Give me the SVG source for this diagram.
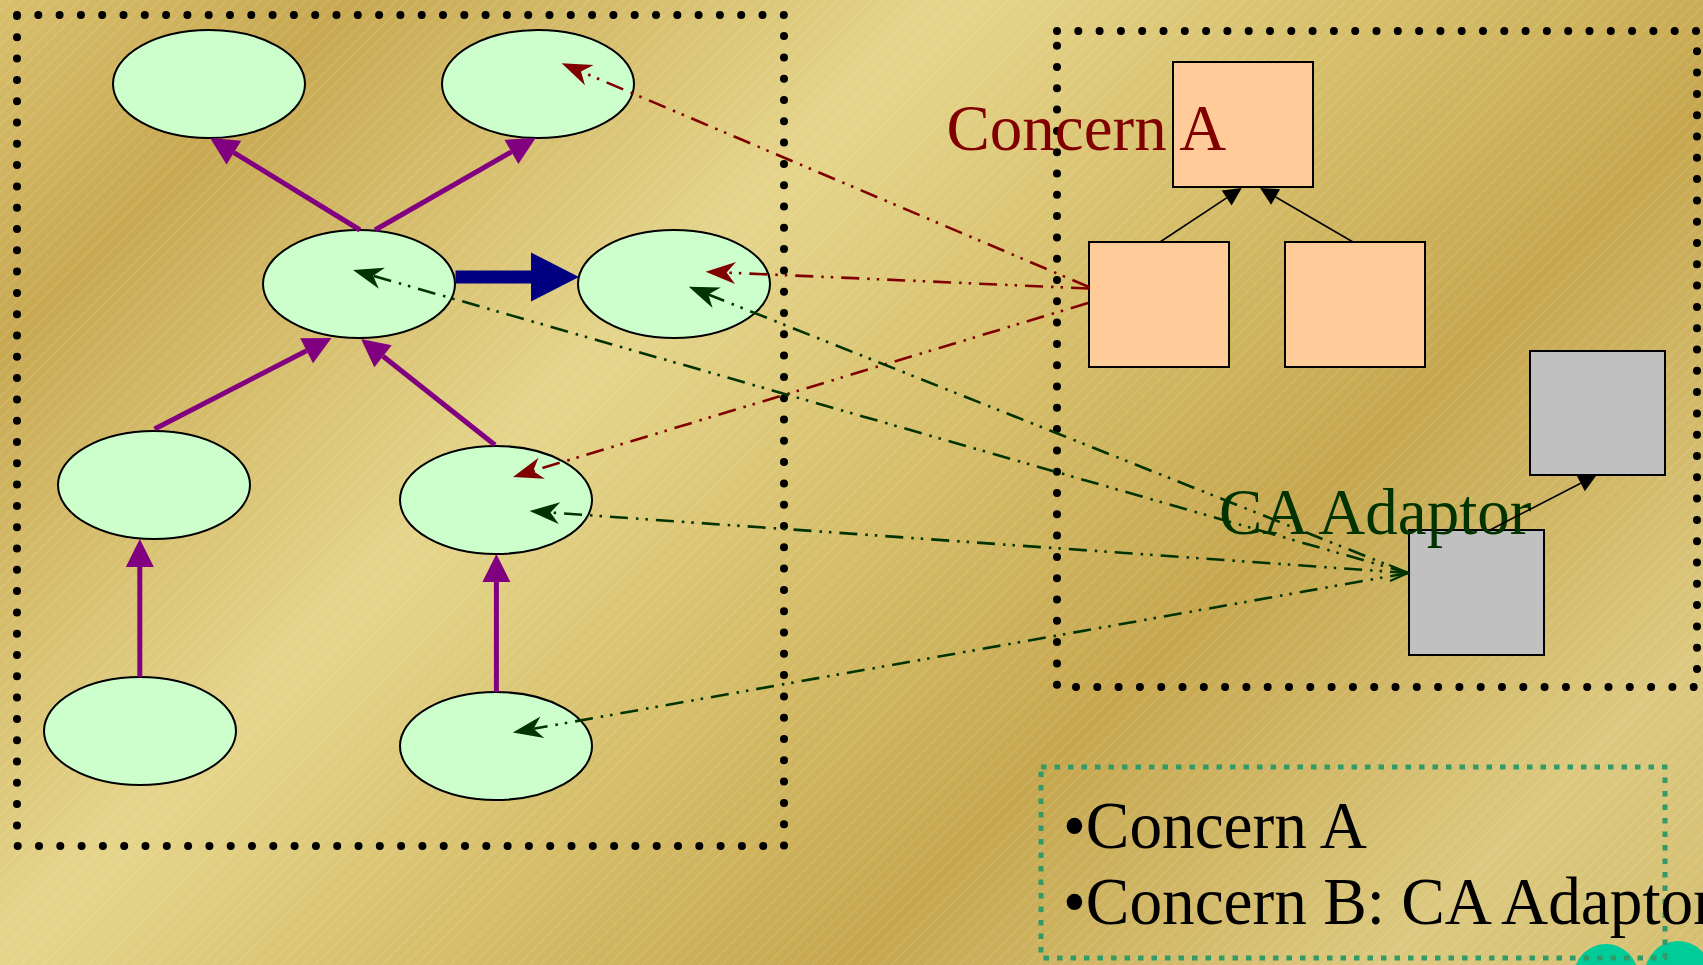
<svg xmlns="http://www.w3.org/2000/svg" width="1703" height="965" viewBox="0 0 1703 965">
<defs>
<linearGradient id="bg" gradientUnits="userSpaceOnUse" x1="0" y1="0" x2="1334" y2="1334">
<stop offset="0" stop-color="#D8BF6C"/>
<stop offset="0.13" stop-color="#C8A952"/>
<stop offset="0.36" stop-color="#E5D58B"/>
<stop offset="0.52" stop-color="#D6BE6A"/>
<stop offset="0.68" stop-color="#C6A74F"/>
<stop offset="0.88" stop-color="#DCC97F"/>
<stop offset="1" stop-color="#D4BE70"/>
</linearGradient>
<pattern id="hatch" width="8" height="8" patternUnits="userSpaceOnUse" patternTransform="rotate(45)">
<line x1="0" y1="0" x2="0" y2="8" stroke="#ffffff" stroke-opacity="0.28" stroke-width="1"/>
</pattern>
<marker id="purple" markerUnits="userSpaceOnUse" markerWidth="30" markerHeight="30" refX="0" refY="0" orient="auto" overflow="visible">
<path d="M0,-14 L28,0 L0,14 z" fill="#800080"/>
</marker>
<marker id="blue" markerUnits="userSpaceOnUse" markerWidth="50" markerHeight="50" refX="0" refY="0" orient="auto" overflow="visible">
<path d="M0,-24.5 L48,0 L0,24.5 z" fill="#000080"/>
</marker>
<marker id="black" markerUnits="userSpaceOnUse" markerWidth="20" markerHeight="20" refX="0" refY="0" orient="auto" overflow="visible">
<path d="M0,-9 L18,0 L0,9 z" fill="#000000"/>
</marker>
<marker id="red" markerUnits="userSpaceOnUse" markerWidth="32" markerHeight="24" refX="0" refY="0" orient="auto" overflow="visible">
<path d="M21,0 L-9,-11 L0,0 L-9,11 z" fill="#800000"/>
</marker>
<marker id="green" markerUnits="userSpaceOnUse" markerWidth="32" markerHeight="24" refX="0" refY="0" orient="auto" overflow="visible">
<path d="M21,0 L-9,-11 L0,0 L-9,11 z" fill="#003300"/>
</marker>
</defs>
<style>
.ell{fill:#CCFFCC;stroke:#000;stroke-width:2}
.peach{fill:#FFCC99;stroke:#000;stroke-width:2}
.gray{fill:#C0C0C0;stroke:#000;stroke-width:2}
.dots{fill:none;stroke:#000;stroke-width:8;stroke-linecap:round;stroke-dasharray:0 21.3}
.legend{fill:none;stroke:#339966;stroke-width:5;stroke-dasharray:5.5 8}
.pur{fill:none;stroke:#800080;stroke-width:5;marker-end:url(#purple)}
.blk{fill:none;stroke:#000;stroke-width:1.6;marker-end:url(#black)}
.dr{fill:none;stroke:#800000;stroke-width:2.6;stroke-dasharray:18 8 2.5 7 2.5 8;marker-end:url(#red)}
.dg{fill:none;stroke:#003300;stroke-width:2.6;stroke-dasharray:18 8 2.5 7 2.5 8;marker-end:url(#green)}
.t{font-family:"Liberation Serif","Times New Roman",serif;font-size:65px}
.lt{font-family:"Liberation Serif","Times New Roman",serif;font-size:68px;fill:#000}
</style>
<rect x="0" y="0" width="1703" height="965" fill="url(#bg)"/>
<rect x="0" y="0" width="1703" height="965" fill="url(#hatch)"/>

<g id="nav-buttons">
<circle cx="1606" cy="976" r="32" fill="#00CC99"/>
<circle cx="1609" cy="980" r="14" fill="#8a8a8a"/>
<circle cx="1678" cy="974" r="33" fill="#00CC99"/>
<circle cx="1674" cy="980" r="14" fill="#8a8a8a"/>
</g>

<g id="left-container"><rect class="dots" x="17" y="15" width="767" height="831"/></g>
<g id="right-container"><rect class="dots" x="1057" y="31" width="640" height="656"/></g>
<g id="legend-box"><rect class="legend" x="1041" y="767" width="624" height="191"/></g>

<g id="n1"><ellipse class="ell" cx="209" cy="84" rx="96" ry="54"/></g>
<g id="n2"><ellipse class="ell" cx="538" cy="84" rx="96" ry="54"/></g>
<g id="n3"><ellipse class="ell" cx="359" cy="284" rx="96" ry="54"/></g>
<g id="n4"><ellipse class="ell" cx="674" cy="284" rx="96" ry="54"/></g>
<g id="n5"><ellipse class="ell" cx="154" cy="485" rx="96" ry="54"/></g>
<g id="n6"><ellipse class="ell" cx="496" cy="500" rx="96" ry="54"/></g>
<g id="n7"><ellipse class="ell" cx="140" cy="731" rx="96" ry="54"/></g>
<g id="n8"><ellipse class="ell" cx="496" cy="746" rx="96" ry="54"/></g>

<g id="concernA-top"><rect class="peach" x="1173" y="62" width="140" height="125"/></g>
<g id="concernA-left"><rect class="peach" x="1089" y="242" width="140" height="125"/></g>
<g id="concernA-right"><rect class="peach" x="1285" y="242" width="140" height="125"/></g>
<g id="adaptor-top"><rect class="gray" x="1530" y="351" width="135" height="124"/></g>
<g id="adaptor"><rect class="gray" x="1409" y="530" width="135" height="125"/></g>

<g id="labels">
<text class="t" x="946.5" y="150" fill="#800000">Concern A</text>
<text class="t" x="1219" y="534" fill="#003300">CA Adaptor</text>
<g transform="translate(1063,848) scale(0.96,1)"><text class="lt" x="0" y="0">•Concern A</text></g>
<g transform="translate(1063,924) scale(0.96,1)"><text class="lt" x="0" y="0">•Concern B: CA Adaptor</text></g>
</g>

<g id="connectors">
<path class="pur" d="M360,230 L233.9,152.6"/>
<path class="pur" d="M375,230 L511.4,151.9"/>
<path class="pur" d="M154.6,429 L306.6,350.7"/>
<path class="pur" d="M495,445 L383,356.3"/>
<path class="pur" d="M139.8,677 L139.8,567"/>
<path class="pur" d="M496.4,692 L496.4,582"/>
<path d="M455.5,277 L531,277" fill="none" stroke="#000080" stroke-width="13" marker-end="url(#blue)"/>
<path class="blk" d="M1160,242 L1226.7,197.9"/>
<path class="blk" d="M1353,242 L1275.6,197"/>
<path class="blk" d="M1490,530 L1580.7,483.2"/>
<path class="dr" d="M1089,287 L581,71.5"/>
<path class="dr" d="M1089,288.5 L726.6,272.6"/>
<path class="dr" d="M1088,303 L533.1,470.9"/>
<path class="dg" d="M1408,573 L373.2,275.8"/>
<path class="dg" d="M1408,573 L708.3,294.5"/>
<path class="dg" d="M1408,573 L550.5,512.5"/>
<path class="dg" d="M1408,573 L533.5,728.8"/>
<path d="M1389,565 L1408,573 L1390,581" fill="none" stroke="#003300" stroke-width="2.2"/>
</g>
</svg>
